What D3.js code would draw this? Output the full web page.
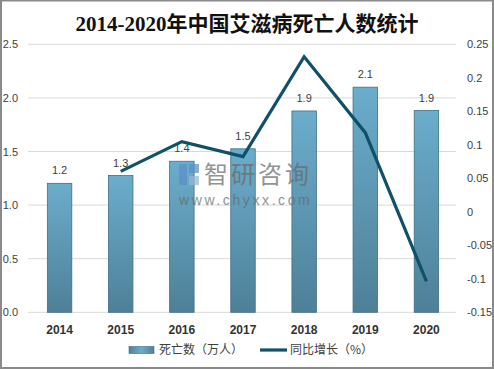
<!DOCTYPE html>
<html><head><meta charset="utf-8">
<script src="https://cdn.jsdelivr.net/npm/d3@7/dist/d3.min.js"></script>
<style>body{margin:0;background:#fff}svg{display:block}</style>
</head><body>
<script>
const years = ["2014","2015","2016","2017","2018","2019","2020"];
const deaths = [1.203,1.2755,1.4091,1.5251,1.878,2.0999,1.8819];
const deathLabels = ["1.2","1.3","1.4","1.5","1.9","2.1","1.9"];
const growth = [null,0.0603,0.1047,0.0823,0.2314,0.1181,-0.1038];
const leftTicks = [0,0.5,1.0,1.5,2.0,2.5];
const rightTicks = [-0.15,-0.1,-0.05,0,0.05,0.1,0.15,0.2,0.25];
const title = "2014-2020年中国艾滋病死亡人数统计";
const legendNames = ["死亡数（万人）","同比增长（%）"];

const W=494,H=369;
const svg=d3.select("body").append("svg").attr("width",W).attr("height",H);
const defs=svg.append("defs");
const g=defs.append("linearGradient").attr("id","bg").attr("x1",0).attr("y1",0).attr("x2",0).attr("y2",1);
g.append("stop").attr("offset","0%").attr("stop-color","#6badcc");
g.append("stop").attr("offset","100%").attr("stop-color","#4e8097");
const lg=defs.append("linearGradient").attr("id","lg").attr("x1",0).attr("y1",0).attr("x2",1).attr("y2",0);
lg.append("stop").attr("offset","0%").attr("stop-color","#4e8097");
lg.append("stop").attr("offset","50%").attr("stop-color","#6badcc");
lg.append("stop").attr("offset","100%").attr("stop-color","#4e8097");

svg.append("rect").attr("x",1).attr("y",0.5).attr("width",W-2).attr("height",H-1.5)
  .attr("fill","#fff").attr("stroke","#8a8a8a").attr("stroke-width",2);

const x=d3.scaleBand().domain(years).range([29,457]).paddingInner(0.6).paddingOuter(0.3);
const yL=d3.scaleLinear().domain([0,2.5]).range([312.3,44.3]);
const yR=d3.scaleLinear().domain([-0.15,0.25]).range([312.3,44.3]);

// gridlines
svg.append("g").selectAll("line").data(leftTicks).join("line")
  .attr("x1",28).attr("x2",456).attr("y1",d=>yL(d)).attr("y2",d=>yL(d))
  .attr("stroke","#d9d9d9").attr("stroke-width",1);

// left axis
const fAx="'Liberation Sans','DejaVu Sans',sans-serif";
const axL=svg.append("g").attr("transform","translate(28,0)")
  .call(d3.axisLeft(yL).tickValues(leftTicks).tickFormat(d3.format(".1f")).tickSize(0).tickPadding(10));
axL.select(".domain").remove();
axL.selectAll("text").attr("font-family",fAx).attr("font-size",11).attr("fill","#404040");

const axR=svg.append("g").attr("transform","translate(456,0)")
  .call(d3.axisRight(yR).tickValues(rightTicks).tickFormat(d=>String(+d.toFixed(2))).tickSize(0).tickPadding(11));
axR.select(".domain").remove();
axR.selectAll("text").attr("font-family",fAx).attr("font-size",11).attr("fill","#404040");

// bars
svg.append("g").selectAll("rect").data(years).join("rect")
  .attr("x",d=>x(d)).attr("width",x.bandwidth())
  .attr("y",(d,i)=>yL(deaths[i])).attr("height",(d,i)=>yL(0)-yL(deaths[i]))
  .attr("fill","url(#bg)").attr("stroke","#3f6f85").attr("stroke-width",0.8);

// bar labels
svg.append("g").selectAll("text").data(years).join("text")
  .attr("x",d=>x(d)+x.bandwidth()/2).attr("y",(d,i)=>yL(deaths[i])-9)
  .attr("text-anchor","middle").attr("font-family",fAx).attr("font-size",11).attr("fill","#404040")
  .text((d,i)=>deathLabels[i]);

// x axis labels
svg.append("g").selectAll("text").data(years).join("text")
  .attr("x",d=>x(d)+x.bandwidth()/2).attr("y",334)
  .attr("text-anchor","middle").attr("font-family",fAx).attr("font-size",12).attr("font-weight","bold").attr("fill","#333")
  .text(d=>d);

// watermark
const wm=svg.append("g").attr("opacity",0.72);
wm.append("rect").attr("x",179).attr("y",164).attr("width",8).attr("height",21).attr("fill","#5b8fc7");
wm.append("rect").attr("x",189).attr("y",164).attr("width",10).attr("height",9).attr("fill","#5b8fc7");
wm.append("rect").attr("x",189).attr("y",176).attr("width",10).attr("height",9).attr("fill","#9ab7d8");
wm.append("text").attr("x",204).attr("y",183).attr("font-family","'Noto Sans CJK SC',sans-serif")
  .attr("font-size",24).attr("fill","#6a6a6a").attr("letter-spacing",3).text("智研咨询");
wm.append("text").attr("x",179).attr("y",205).attr("font-family",fAx)
  .attr("font-size",14).attr("fill","#6a6a6a").attr("letter-spacing",2.6).text("www.chyxx.com");

// line
const pts=years.map((d,i)=>({x:x(d)+x.bandwidth()/2,v:growth[i]})).filter(p=>p.v!==null);
svg.append("path").datum(pts)
  .attr("d",d3.line().x(p=>p.x).y(p=>yR(p.v)))
  .attr("fill","none").attr("stroke","#0f5168").attr("stroke-width",3.2).attr("stroke-linejoin","miter");

// title
svg.append("text").attr("x",247).attr("y",31).attr("text-anchor","middle")
  .attr("font-family","'Liberation Serif','Noto Sans CJK SC',serif").attr("font-size",21).attr("font-weight","bold")
  .attr("fill","#111").text(title);

// legend
svg.append("rect").attr("x",129).attr("y",346.5).attr("width",25).attr("height",7)
  .attr("fill","url(#lg)").attr("stroke","#3f6f85").attr("stroke-width",0.6);
svg.append("text").attr("x",159).attr("y",354).attr("font-family","'Noto Sans CJK SC',sans-serif")
  .attr("font-size",12).attr("fill","#404040").text(legendNames[0]);
svg.append("line").attr("x1",260).attr("x2",287).attr("y1",350).attr("y2",350)
  .attr("stroke","#0f5168").attr("stroke-width",3.2);
svg.append("text").attr("x",290).attr("y",354).attr("font-family","'Noto Sans CJK SC',sans-serif")
  .attr("font-size",12).attr("fill","#404040").text(legendNames[1]);
</script>
</body></html>
